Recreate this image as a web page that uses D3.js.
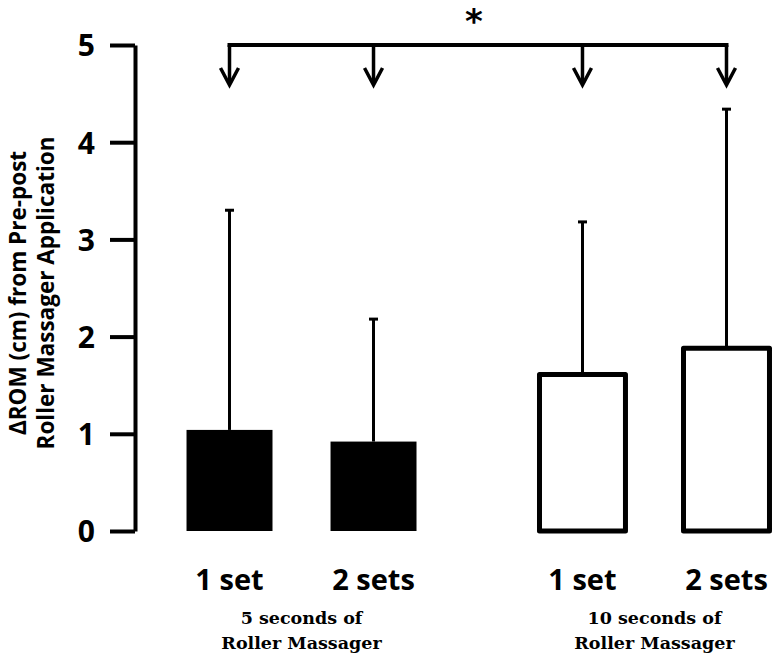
<!DOCTYPE html>
<html><head><meta charset="utf-8">
<script src="https://cdn.jsdelivr.net/npm/d3@7"></script>
<style>body{margin:0;background:#fff}svg{display:block}</style>
</head><body>
<svg id="c" width="778" height="656"></svg>
<script>
// ---- data ----
const groups = ["5 seconds of|Roller Massager", "10 seconds of|Roller Massager"];
const sets = ["1 set", "2 sets"];
const means = [[1.04, 0.92], [1.61, 1.88]];
const sds = [[2.26, 1.26], [1.57, 2.46]];
const fills = ["#000", "#fff"];
const yTicks = [0, 1, 2, 3, 4, 5];
const yTitle = ["\u0394ROM (cm) from Pre-post", "Roller Massager Application"];
const sigMark = "*";

const svg = d3.select("#c");
const y = d3.scaleLinear().domain([0, 5]).range([531, 45]);
const x0 = d3.scaleBand().domain(groups).range([157.5, 798.5]).paddingInner(0.184).paddingOuter(0);
const x1 = d3.scaleBand().domain(sets).range([0, x0.bandwidth()]).paddingInner(0.403).paddingOuter(0.2015);

const data = [];
groups.forEach((g, gi) => sets.forEach((s, si) => data.push({g, gi, s, si, m: means[gi][si], sd: sds[gi][si]})));
const cx = d => x0(d.g) + x1(d.s) + x1.bandwidth() / 2;

// axis
const ax = svg.append("g").attr("transform", "translate(135,0)")
  .call(d3.axisLeft(y).tickValues(yTicks).tickFormat(d3.format("d")).tickSize(25).tickSizeOuter(0).tickPadding(15));
ax.select(".domain").attr("stroke", "#000").attr("stroke-width", 4);
ax.selectAll(".tick line").attr("stroke", "#000").attr("stroke-width", 4);
ax.selectAll(".tick text").attr("font-family", "Open Sans").attr("font-weight", 700).attr("font-size", 30).attr("fill", "#000").attr("dy", "0.36em");

// error bars
svg.selectAll(".eb").data(data).enter().append("line")
  .attr("x1", cx).attr("x2", cx).attr("y1", d => y(d.m)).attr("y2", d => y(d.m + d.sd))
  .attr("stroke", "#000").attr("stroke-width", 3);
svg.selectAll(".cap").data(data).enter().append("line")
  .attr("x1", d => cx(d) - 4.5).attr("x2", d => cx(d) + 4.5).attr("y1", d => y(d.m + d.sd)).attr("y2", d => y(d.m + d.sd))
  .attr("stroke", "#000").attr("stroke-width", 3);

// bars
svg.selectAll(".bar").data(data).enter().append("rect")
  .attr("x", d => x0(d.g) + x1(d.s)).attr("width", x1.bandwidth())
  .attr("y", d => y(d.m)).attr("height", d => y(0) - y(d.m))
  .attr("fill", d => fills[d.gi])
  .attr("stroke", d => d.gi ? "#000" : "none").attr("stroke-width", 5).attr("stroke-linejoin", "round");

// category labels
svg.selectAll(".cl").data(data).enter().append("text")
  .attr("x", cx).attr("y", 590).attr("text-anchor", "middle")
  .attr("font-family", "Open Sans").attr("font-weight", 700).attr("font-size", 29).text(d => d.s);

// group labels
groups.forEach(g => {
  const t = svg.append("text").attr("text-anchor", "middle").attr("font-family", "DejaVu Serif").attr("font-weight", 700).attr("font-size", 17.5);
  g.split("|").forEach((line, i) => t.append("tspan").attr("x", x0(g) + x0.bandwidth() / 2).attr("y", 624 + i * 25).text(line));
});

// y title
const yt = svg.append("text").attr("transform", "translate(0,293) rotate(-90)").attr("text-anchor", "middle")
  .attr("font-family", "Open Sans").attr("font-weight", 700).attr("font-size", 22.5);
yTitle.forEach((line, i) => yt.append("tspan").attr("x", 0).attr("y", 26 + i * 28).text(line));

// significance bracket
const xs = data.map(cx);
const by = y(5), tipY = 85;
svg.append("line").attr("x1", xs[0]).attr("x2", xs[3]).attr("y1", by).attr("y2", by).attr("stroke", "#000").attr("stroke-width", 4).attr("stroke-linecap", "square");
xs.forEach(xv => {
  svg.append("line").attr("x1", xv).attr("x2", xv).attr("y1", by).attr("y2", tipY - 2).attr("stroke", "#000").attr("stroke-width", 3.5);
  svg.append("path").attr("d", `M${xv - 9},${tipY - 17}L${xv},${tipY}L${xv + 9},${tipY - 17}`)
    .attr("fill", "none").attr("stroke", "#000").attr("stroke-width", 3.5).attr("stroke-linejoin", "miter");
});
svg.append("text").attr("x", (xs[1] + xs[2]) / 2 - 4).attr("y", 33).attr("text-anchor", "middle")
  .attr("font-family", "DejaVu Sans").attr("font-weight", 700).attr("font-size", 34).text(sigMark);
</script>
</body></html>
